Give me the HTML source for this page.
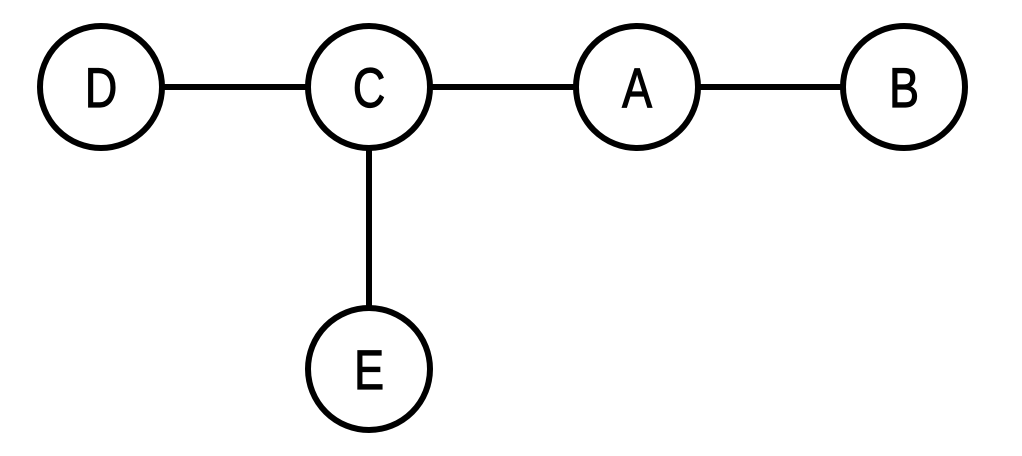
<!DOCTYPE html>
<html><head><style>html,body{margin:0;padding:0;background:#fff;width:1022px;height:456px;overflow:hidden}</style></head>
<body>
<svg width="1022" height="456" viewBox="0 0 1022 456" xmlns="http://www.w3.org/2000/svg">
<g stroke="#000" stroke-width="6" fill="none">
<line x1="101" y1="87" x2="904" y2="87"/>
<line x1="369" y1="87" x2="369" y2="369"/>
</g>
<g stroke="#000" stroke-width="6" fill="#fff">
<circle cx="101" cy="87" r="61"/>
<circle cx="369" cy="87" r="61"/>
<circle cx="637" cy="87" r="61"/>
<circle cx="904" cy="87" r="61"/>
<circle cx="369" cy="369" r="61"/>
</g>
<g font-family="Liberation Sans, sans-serif" font-size="56" text-anchor="middle" fill="#000" stroke="#000" stroke-width="1.2">
<text transform="translate(101,107) scale(0.8,1)">D</text>
<text transform="translate(369,107) scale(0.8,1)">C</text>
<text transform="translate(637,107) scale(0.8,1)">A</text>
<text transform="translate(904,107) scale(0.8,1)">B</text>
<text transform="translate(369,389) scale(0.8,1)">E</text>
</g>
</svg>
</body></html>
